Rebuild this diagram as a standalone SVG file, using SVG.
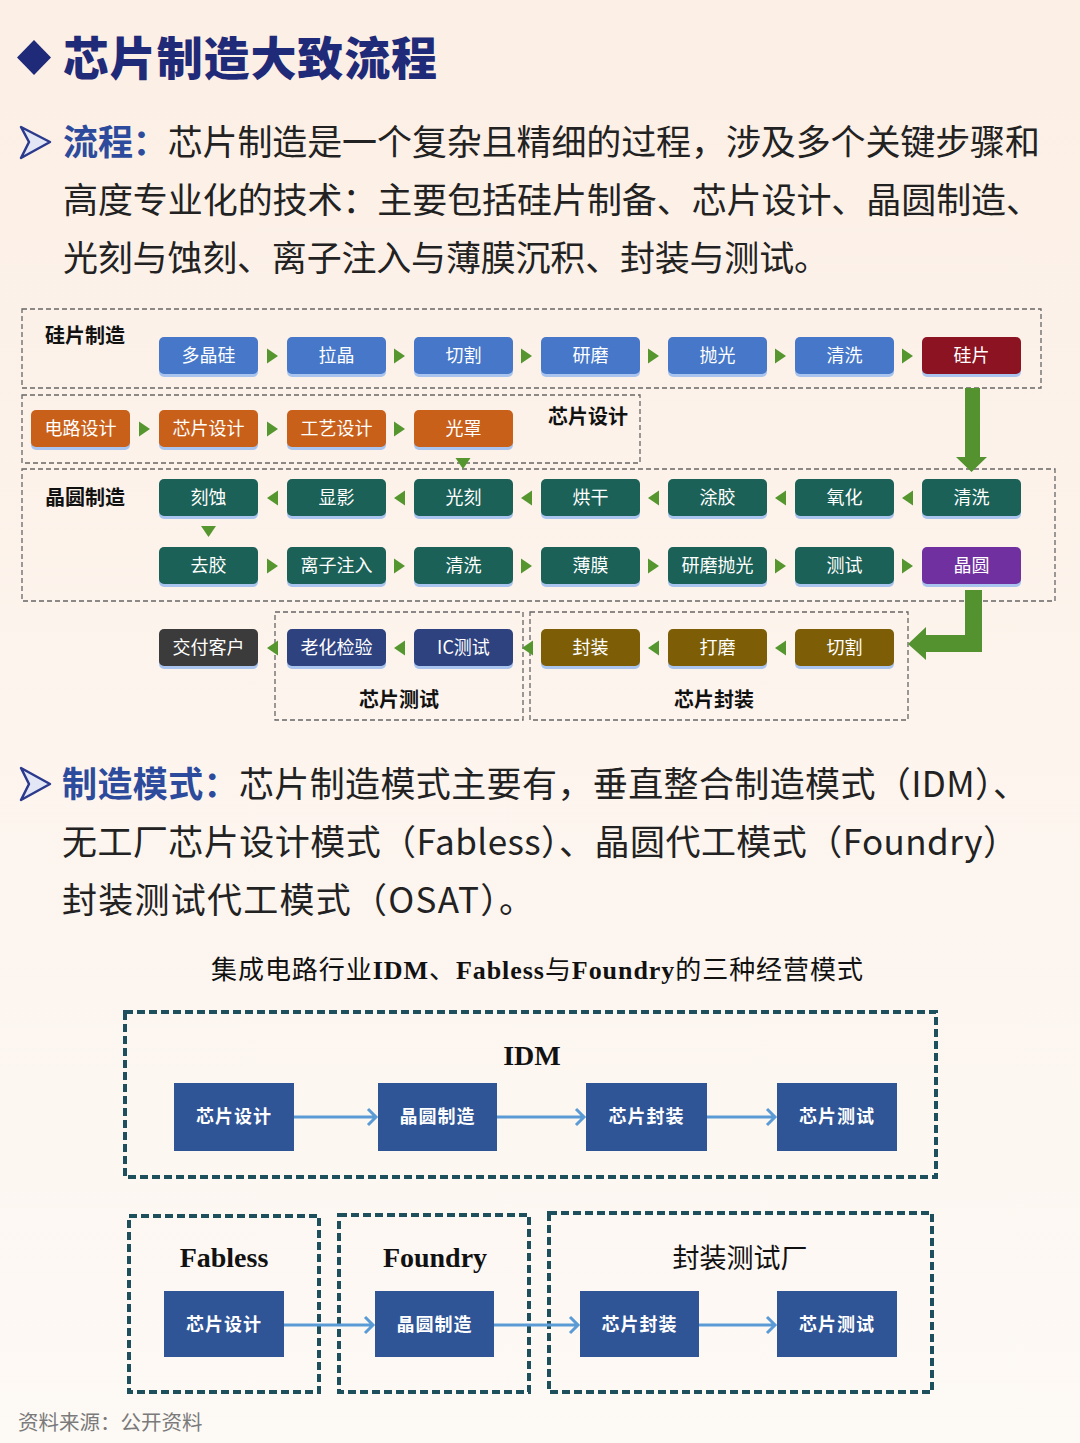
<svg xmlns="http://www.w3.org/2000/svg" width="1080" height="1443" viewBox="0 0 1080 1443">
<defs>
<linearGradient id="bg" x1="0" y1="0" x2="0" y2="1">
<stop offset="0" stop-color="#fcefe5"/>
<stop offset="1" stop-color="#fdf9f5"/>
</linearGradient>
<style>
.cjk{font-family:"Noto Sans CJK SC","Noto Sans",sans-serif}
.p{font-family:"Noto Sans CJK SC","Noto Sans",sans-serif;font-size:35px;fill:#222}
.hd{fill:#2d4b9c;font-weight:700}
.grp{fill:none;stroke:#666;stroke-width:1.3;stroke-dasharray:5 3}
.gl{font-family:"Noto Sans CJK SC",sans-serif;font-size:20px;font-weight:700;fill:#111}
.fb{rx:5;ry:5}
.sh{fill:#a9c4ee}
.ft{font-family:"Noto Sans CJK SC",sans-serif;font-size:18px;fill:#fff;text-anchor:middle}
.tri{fill:#55962f}
.big{fill:#53922f}
.blue{fill:#4677c8}.red{fill:#8c1322}.org{fill:#c9601a}.teal{fill:#1b6157}.pur{fill:#7030a0}.navy{fill:#2e4280}.gray{fill:#3b3b3b}.olv{fill:#7d5e06}
.mgrp{fill:none;stroke:#1d4f5c;stroke-width:4;stroke-dasharray:8 4}
.mb{fill:#2f5597}
.mt{font-family:"Noto Sans CJK SC",sans-serif;font-size:18px;font-weight:700;fill:#fff;text-anchor:middle;letter-spacing:1px}
.ml{font-family:"Liberation Serif","Noto Sans CJK SC",serif;font-size:28px;font-weight:700;fill:#111;text-anchor:middle}
.ar{fill:none;stroke:#5b9bd5;stroke-width:3}
</style>
</defs>
<rect x="0" y="0" width="1080" height="1443" fill="url(#bg)"/>

<g id="title">
<polygon points="34,40 51,57.5 34,75 17,57.5" fill="#1f2a78"/>
<text x="63" y="75" class="cjk" font-size="46" font-weight="900" fill="#1f2a78" textLength="374" lengthAdjust="spacing">芯片制造大致流程</text>
</g>

<g id="para1">
<path d="M21,127 L50,142 L21,158 L29,142 Z" fill="#e3e7f5" stroke="#2b3a8c" stroke-width="2.5" stroke-linejoin="round"/>
<text x="63" y="155" class="p" textLength="977" lengthAdjust="spacing"><tspan class="hd">流程：</tspan>芯片制造是一个复杂且精细的过程，涉及多个关键步骤和</text>
<text x="63" y="213" class="p" textLength="978" lengthAdjust="spacing">高度专业化的技术：主要包括硅片制备、芯片设计、晶圆制造、</text>
<text x="63" y="271" class="p" textLength="766" lengthAdjust="spacing">光刻与蚀刻、离子注入与薄膜沉积、封装与测试。</text>
</g>

<!-- flow groups -->
<g id="grp-silicon">
<rect class="grp" x="22" y="309" width="1019" height="79"/>
<text class="gl" x="45" y="343">硅片制造</text>
</g>
<g id="grp-design">
<rect class="grp" x="22" y="395" width="618" height="68"/>
<text class="gl" x="548" y="424">芯片设计</text>
</g>
<g id="grp-wafer">
<rect class="grp" x="22" y="469" width="1033" height="132"/>
<text class="gl" x="45" y="505">晶圆制造</text>
</g>
<g id="grp-test">
<rect class="grp" x="275" y="612" width="248" height="108"/>
<text class="gl" x="399" y="707" text-anchor="middle">芯片测试</text>
</g>
<g id="grp-pack">
<rect class="grp" x="530" y="612" width="378" height="108"/>
<text class="gl" x="714" y="707" text-anchor="middle">芯片封装</text>
</g>

<!-- row 1 -->
<g id="n-duojinggui"><rect class="sh" x="159" y="340" width="99" height="37" rx="5"/><rect class="blue" x="159" y="337" width="99" height="37" rx="5"/><text class="ft" x="208.5" y="362">多晶硅</text></g>
<g id="n-lajing"><rect class="sh" x="287" y="340" width="99" height="37" rx="5"/><rect class="blue" x="287" y="337" width="99" height="37" rx="5"/><text class="ft" x="336.5" y="362">拉晶</text></g>
<g id="n-qiege1"><rect class="sh" x="414" y="340" width="99" height="37" rx="5"/><rect class="blue" x="414" y="337" width="99" height="37" rx="5"/><text class="ft" x="463.5" y="362">切割</text></g>
<g id="n-yanmo"><rect class="sh" x="541" y="340" width="99" height="37" rx="5"/><rect class="blue" x="541" y="337" width="99" height="37" rx="5"/><text class="ft" x="590.5" y="362">研磨</text></g>
<g id="n-paoguang"><rect class="sh" x="668" y="340" width="99" height="37" rx="5"/><rect class="blue" x="668" y="337" width="99" height="37" rx="5"/><text class="ft" x="717.5" y="362">抛光</text></g>
<g id="n-qingxi1"><rect class="sh" x="795" y="340" width="99" height="37" rx="5"/><rect class="blue" x="795" y="337" width="99" height="37" rx="5"/><text class="ft" x="844.5" y="362">清洗</text></g>
<g id="n-guipian"><rect class="sh" x="922" y="340" width="99" height="37" rx="5"/><rect class="red" x="922" y="337" width="99" height="37" rx="5"/><text class="ft" x="971.5" y="362">硅片</text></g>

<!-- design row -->
<g id="n-dianlu"><rect class="sh" x="31" y="413" width="99" height="37" rx="5"/><rect class="org" x="31" y="410" width="99" height="37" rx="5"/><text class="ft" x="80.5" y="435">电路设计</text></g>
<g id="n-xinpiansheji"><rect class="sh" x="159" y="413" width="99" height="37" rx="5"/><rect class="org" x="159" y="410" width="99" height="37" rx="5"/><text class="ft" x="208.5" y="435">芯片设计</text></g>
<g id="n-gongyi"><rect class="sh" x="287" y="413" width="99" height="37" rx="5"/><rect class="org" x="287" y="410" width="99" height="37" rx="5"/><text class="ft" x="336.5" y="435">工艺设计</text></g>
<g id="n-guangzhao"><rect class="sh" x="414" y="413" width="99" height="37" rx="5"/><rect class="org" x="414" y="410" width="99" height="37" rx="5"/><text class="ft" x="463.5" y="435">光罩</text></g>

<!-- row A -->
<g id="n-keshi"><rect class="sh" x="159" y="482" width="99" height="37" rx="5"/><rect class="teal" x="159" y="479" width="99" height="37" rx="5"/><text class="ft" x="208.5" y="504">刻蚀</text></g>
<g id="n-xianying"><rect class="sh" x="287" y="482" width="99" height="37" rx="5"/><rect class="teal" x="287" y="479" width="99" height="37" rx="5"/><text class="ft" x="336.5" y="504">显影</text></g>
<g id="n-guangke"><rect class="sh" x="414" y="482" width="99" height="37" rx="5"/><rect class="teal" x="414" y="479" width="99" height="37" rx="5"/><text class="ft" x="463.5" y="504">光刻</text></g>
<g id="n-honggan"><rect class="sh" x="541" y="482" width="99" height="37" rx="5"/><rect class="teal" x="541" y="479" width="99" height="37" rx="5"/><text class="ft" x="590.5" y="504">烘干</text></g>
<g id="n-tujiao"><rect class="sh" x="668" y="482" width="99" height="37" rx="5"/><rect class="teal" x="668" y="479" width="99" height="37" rx="5"/><text class="ft" x="717.5" y="504">涂胶</text></g>
<g id="n-yanghua"><rect class="sh" x="795" y="482" width="99" height="37" rx="5"/><rect class="teal" x="795" y="479" width="99" height="37" rx="5"/><text class="ft" x="844.5" y="504">氧化</text></g>
<g id="n-qingxi2"><rect class="sh" x="922" y="482" width="99" height="37" rx="5"/><rect class="teal" x="922" y="479" width="99" height="37" rx="5"/><text class="ft" x="971.5" y="504">清洗</text></g>

<!-- row B -->
<g id="n-qujiao"><rect class="sh" x="159" y="550" width="99" height="37" rx="5"/><rect class="teal" x="159" y="547" width="99" height="37" rx="5"/><text class="ft" x="208.5" y="572">去胶</text></g>
<g id="n-lizi"><rect class="sh" x="287" y="550" width="99" height="37" rx="5"/><rect class="teal" x="287" y="547" width="99" height="37" rx="5"/><text class="ft" x="336.5" y="572">离子注入</text></g>
<g id="n-qingxi3"><rect class="sh" x="414" y="550" width="99" height="37" rx="5"/><rect class="teal" x="414" y="547" width="99" height="37" rx="5"/><text class="ft" x="463.5" y="572">清洗</text></g>
<g id="n-bomo"><rect class="sh" x="541" y="550" width="99" height="37" rx="5"/><rect class="teal" x="541" y="547" width="99" height="37" rx="5"/><text class="ft" x="590.5" y="572">薄膜</text></g>
<g id="n-yanmopaoguang"><rect class="sh" x="668" y="550" width="99" height="37" rx="5"/><rect class="teal" x="668" y="547" width="99" height="37" rx="5"/><text class="ft" x="717.5" y="572">研磨抛光</text></g>
<g id="n-ceshi"><rect class="sh" x="795" y="550" width="99" height="37" rx="5"/><rect class="teal" x="795" y="547" width="99" height="37" rx="5"/><text class="ft" x="844.5" y="572">测试</text></g>
<g id="n-jingyuan"><rect class="sh" x="922" y="550" width="99" height="37" rx="5"/><rect class="pur" x="922" y="547" width="99" height="37" rx="5"/><text class="ft" x="971.5" y="572">晶圆</text></g>

<!-- row C -->
<g id="n-jiaofu"><rect class="sh" x="159" y="632" width="99" height="37" rx="5"/><rect class="gray" x="159" y="629" width="99" height="37" rx="5"/><text class="ft" x="208.5" y="654">交付客户</text></g>
<g id="n-laohua"><rect class="sh" x="287" y="632" width="99" height="37" rx="5"/><rect class="navy" x="287" y="629" width="99" height="37" rx="5"/><text class="ft" x="336.5" y="654">老化检验</text></g>
<g id="n-icceshi"><rect class="sh" x="414" y="632" width="99" height="37" rx="5"/><rect class="navy" x="414" y="629" width="99" height="37" rx="5"/><text class="ft" x="463.5" y="654">IC测试</text></g>
<g id="n-fengzhuang"><rect class="sh" x="541" y="632" width="99" height="37" rx="5"/><rect class="olv" x="541" y="629" width="99" height="37" rx="5"/><text class="ft" x="590.5" y="654">封装</text></g>
<g id="n-damo"><rect class="sh" x="668" y="632" width="99" height="37" rx="5"/><rect class="olv" x="668" y="629" width="99" height="37" rx="5"/><text class="ft" x="717.5" y="654">打磨</text></g>
<g id="n-qiege2"><rect class="sh" x="795" y="632" width="99" height="37" rx="5"/><rect class="olv" x="795" y="629" width="99" height="37" rx="5"/><text class="ft" x="844.5" y="654">切割</text></g>

<g id="connectors">
<!-- row1 right -->
<polygon class="tri" points="267,348.5 278,356 267,363.5"/>
<polygon class="tri" points="394,348.5 405,356 394,363.5"/>
<polygon class="tri" points="521,348.5 532,356 521,363.5"/>
<polygon class="tri" points="648,348.5 659,356 648,363.5"/>
<polygon class="tri" points="775,348.5 786,356 775,363.5"/>
<polygon class="tri" points="902,348.5 913,356 902,363.5"/>
<!-- design row right -->
<polygon class="tri" points="139,421.5 150,429 139,436.5"/>
<polygon class="tri" points="267,421.5 278,429 267,436.5"/>
<polygon class="tri" points="394,421.5 405,429 394,436.5"/>
<!-- design down -->
<polygon class="tri" points="455.5,458 470.5,458 463,469"/>
<!-- row A left -->
<polygon class="tri" points="278,490.5 267,498 278,505.5"/>
<polygon class="tri" points="405,490.5 394,498 405,505.5"/>
<polygon class="tri" points="532,490.5 521,498 532,505.5"/>
<polygon class="tri" points="659,490.5 648,498 659,505.5"/>
<polygon class="tri" points="786,490.5 775,498 786,505.5"/>
<polygon class="tri" points="913,490.5 902,498 913,505.5"/>
<!-- A to B down -->
<polygon class="tri" points="201,526 216,526 208.5,537"/>
<!-- row B right -->
<polygon class="tri" points="267,558.5 278,566 267,573.5"/>
<polygon class="tri" points="394,558.5 405,566 394,573.5"/>
<polygon class="tri" points="521,558.5 532,566 521,573.5"/>
<polygon class="tri" points="648,558.5 659,566 648,573.5"/>
<polygon class="tri" points="775,558.5 786,566 775,573.5"/>
<polygon class="tri" points="902,558.5 913,566 902,573.5"/>
<!-- row C left -->
<polygon class="tri" points="278,640.5 267,648 278,655.5"/>
<polygon class="tri" points="405,640.5 394,648 405,655.5"/>
<polygon class="tri" points="533,640.5 522,648 533,655.5"/>
<polygon class="tri" points="659,640.5 648,648 659,655.5"/>
<polygon class="tri" points="786,640.5 775,648 786,655.5"/>
<!-- big arrows -->
<path class="big" d="M965,388 H980 V457 H987 L971.5,472 L956,457 H965 Z"/>
<path class="big" d="M965,590 H982 V652 H926 V660 L908,644 L926,627 V635 H965 Z"/>
</g>

<g id="para2">
<path d="M21,768 L50,784 L21,800 L29,784 Z" fill="#e3e7f5" stroke="#2b3a8c" stroke-width="2.5" stroke-linejoin="round"/>
<text x="62" y="797" class="p" textLength="966" lengthAdjust="spacing"><tspan class="hd">制造模式：</tspan>芯片制造模式主要有，垂直整合制造模式（IDM）、</text>
<text x="62" y="855" class="p" textLength="956" lengthAdjust="spacing">无工厂芯片设计模式（Fabless）、晶圆代工模式（Foundry）</text>
<text x="62" y="913" class="p" textLength="472" lengthAdjust="spacing">封装测试代工模式（OSAT）。</text>
</g>

<g id="modes-title">
<text x="211" y="979" font-family="'Liberation Serif','Noto Sans CJK SC',serif" font-size="26" fill="#111" textLength="652" lengthAdjust="spacing">集成电路行业<tspan font-weight="700">IDM</tspan>、<tspan font-weight="700">Fabless</tspan>与<tspan font-weight="700">Foundry</tspan>的三种经营模式</text>
</g>

<g id="m-idm">
<rect class="mgrp" x="125" y="1012" width="811" height="165"/>
<text class="ml" x="532" y="1065">IDM</text>
</g>
<g id="m-idm-design"><rect class="mb" x="174" y="1083" width="120" height="68"/><text class="mt" x="234" y="1123">芯片设计</text></g>
<g id="m-idm-fab"><rect class="mb" x="378" y="1083" width="119" height="68"/><text class="mt" x="437.5" y="1123">晶圆制造</text></g>
<g id="m-idm-pack"><rect class="mb" x="586" y="1083" width="121" height="68"/><text class="mt" x="646.5" y="1123">芯片封装</text></g>
<g id="m-idm-test"><rect class="mb" x="777" y="1083" width="120" height="68"/><text class="mt" x="837" y="1123">芯片测试</text></g>

<g id="m-fabless">
<rect class="mgrp" x="129" y="1216" width="190" height="176"/>
<text class="ml" x="224" y="1267">Fabless</text>
</g>
<g id="m-foundry">
<rect class="mgrp" x="339" y="1215" width="190" height="177"/>
<text class="ml" x="435" y="1267">Foundry</text>
</g>
<g id="m-osat">
<rect class="mgrp" x="549" y="1213" width="383" height="179"/>
<text x="740" y="1268" font-family="'Noto Sans CJK SC',sans-serif" font-size="27" fill="#111" text-anchor="middle">封装测试厂</text>
</g>
<g id="m-fl-design"><rect class="mb" x="164" y="1291" width="120" height="66"/><text class="mt" x="224" y="1331">芯片设计</text></g>
<g id="m-fd-fab"><rect class="mb" x="375" y="1291" width="119" height="66"/><text class="mt" x="434.5" y="1331">晶圆制造</text></g>
<g id="m-os-pack"><rect class="mb" x="580" y="1291" width="119" height="66"/><text class="mt" x="639.5" y="1331">芯片封装</text></g>
<g id="m-os-test"><rect class="mb" x="777" y="1291" width="120" height="66"/><text class="mt" x="837" y="1331">芯片测试</text></g>

<g id="mode-connectors">
<path class="ar" d="M294,1117 H376 M368,1109 L376,1117 L368,1125"/>
<path class="ar" d="M497,1117 H584 M576,1109 L584,1117 L576,1125"/>
<path class="ar" d="M707,1117 H775 M767,1109 L775,1117 L767,1125"/>
<path class="ar" d="M284,1325 H373 M365,1317 L373,1325 L365,1333"/>
<path class="ar" d="M494,1325 H578 M570,1317 L578,1325 L570,1333"/>
<path class="ar" d="M699,1325 H775 M767,1317 L775,1325 L767,1333"/>
</g>

<g id="footer">
<text x="18" y="1430" font-family="'Noto Sans CJK SC',sans-serif" font-size="20.5" fill="#7a7a7a">资料来源：公开资料</text>
</g>
</svg>
